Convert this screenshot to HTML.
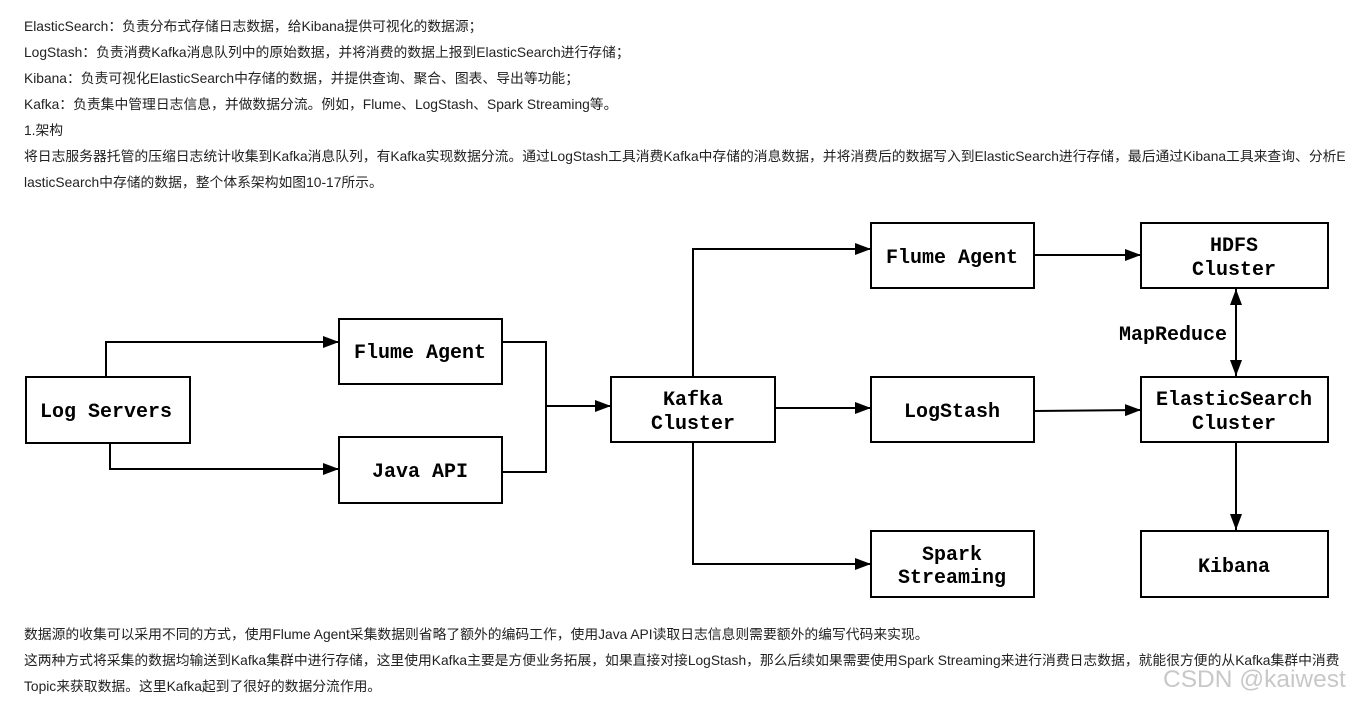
<!DOCTYPE html>
<html><head><meta charset="utf-8"><style>
html,body{margin:0;padding:0;background:#fff;width:1355px;height:704px;overflow:hidden;position:relative}
.t{position:absolute;left:24px;font:13.8px "Liberation Sans","Noto Sans CJK SC",sans-serif;color:#222;white-space:nowrap;line-height:18px}
.wm{position:absolute;left:1163px;top:666px;font:24.5px "Liberation Sans",sans-serif;color:#c8c8c8}
svg{position:absolute;left:0;top:0}
svg text{font-family:"Liberation Mono",monospace;font-weight:bold;font-size:20px;fill:#000;text-anchor:middle}
</style></head><body>
<div class="t" style="top:18px">ElasticSearch：负责分布式存储日志数据，给Kibana提供可视化的数据源；</div>
<div class="t" style="top:44px">LogStash：负责消费Kafka消息队列中的原始数据，并将消费的数据上报到ElasticSearch进行存储；</div>
<div class="t" style="top:70px">Kibana：负责可视化ElasticSearch中存储的数据，并提供查询、聚合、图表、导出等功能；</div>
<div class="t" style="top:96px">Kafka：负责集中管理日志信息，并做数据分流。例如，Flume、LogStash、Spark Streaming等。</div>
<div class="t" style="top:122px">1.架构</div>
<div class="t" style="top:148px">将日志服务器托管的压缩日志统计收集到Kafka消息队列，有Kafka实现数据分流。通过LogStash工具消费Kafka中存储的消息数据，并将消费后的数据写入到ElasticSearch进行存储，最后通过Kibana工具来查询、分析E</div>
<div class="t" style="top:174px">lasticSearch中存储的数据，整个体系架构如图10-17所示。</div>
<div class="t" style="top:626px">数据源的收集可以采用不同的方式，使用Flume Agent采集数据则省略了额外的编码工作，使用Java API读取日志信息则需要额外的编写代码来实现。</div>
<div class="t" style="top:652px">这两种方式将采集的数据均输送到Kafka集群中进行存储，这里使用Kafka主要是方便业务拓展，如果直接对接LogStash，那么后续如果需要使用Spark Streaming来进行消费日志数据，就能很方便的从Kafka集群中消费</div>
<div class="t" style="top:678px">Topic来获取数据。这里Kafka起到了很好的数据分流作用。</div>
<svg width="1355" height="704">
<defs><marker id="a" markerWidth="16" markerHeight="12" refX="16" refY="6" orient="auto" markerUnits="userSpaceOnUse"><path d="M0,0L16,6L0,12z" fill="#000"/></marker>
<marker id="b" markerWidth="16" markerHeight="12" refX="0" refY="6" orient="auto" markerUnits="userSpaceOnUse"><path d="M16,0L0,6L16,12z" fill="#000"/></marker></defs>
<g fill="none" stroke="#000" stroke-width="2">
<rect x="26" y="377" width="164" height="66"/>
<rect x="339" y="319" width="163" height="65"/>
<rect x="339" y="437" width="163" height="66"/>
<rect x="611" y="377" width="164" height="65"/>
<rect x="871" y="223" width="163" height="65"/>
<rect x="871" y="377" width="163" height="65"/>
<rect x="871" y="531" width="163" height="66"/>
<rect x="1141" y="223" width="187" height="65"/>
<rect x="1141" y="377" width="187" height="65"/>
<rect x="1141" y="531" width="187" height="66"/>
<path d="M106,377V342H339" marker-end="url(#a)"/>
<path d="M110,443V469H339" marker-end="url(#a)"/>
<path d="M502,342H546V472H502"/>
<path d="M546,406H611" marker-end="url(#a)"/>
<path d="M693,377V249H871" marker-end="url(#a)"/>
<path d="M775,408H871" marker-end="url(#a)"/>
<path d="M693,442V564H871" marker-end="url(#a)"/>
<path d="M1034,255H1141" marker-end="url(#a)"/>
<path d="M1034,411L1141,410" marker-end="url(#a)"/>
<path d="M1236,289V376" marker-start="url(#b)" marker-end="url(#a)"/>
<path d="M1236,442V530" marker-end="url(#a)"/>
</g>
<text x="106" y="417">Log Servers</text>
<text x="420" y="358">Flume Agent</text>
<text x="420" y="477">Java API</text>
<text x="693" y="405">Kafka</text><text x="693" y="429">Cluster</text>
<text x="952" y="263">Flume Agent</text>
<text x="952" y="417">LogStash</text>
<text x="952" y="560">Spark</text><text x="952" y="583">Streaming</text>
<text x="1234" y="251">HDFS</text><text x="1234" y="275">Cluster</text>
<text x="1234" y="405">ElasticSearch</text><text x="1234" y="429">Cluster</text>
<text x="1234" y="572">Kibana</text>
<text x="1173" y="340">MapReduce</text>
</svg>
<div class="wm">CSDN @kaiwest</div>
</body></html>
